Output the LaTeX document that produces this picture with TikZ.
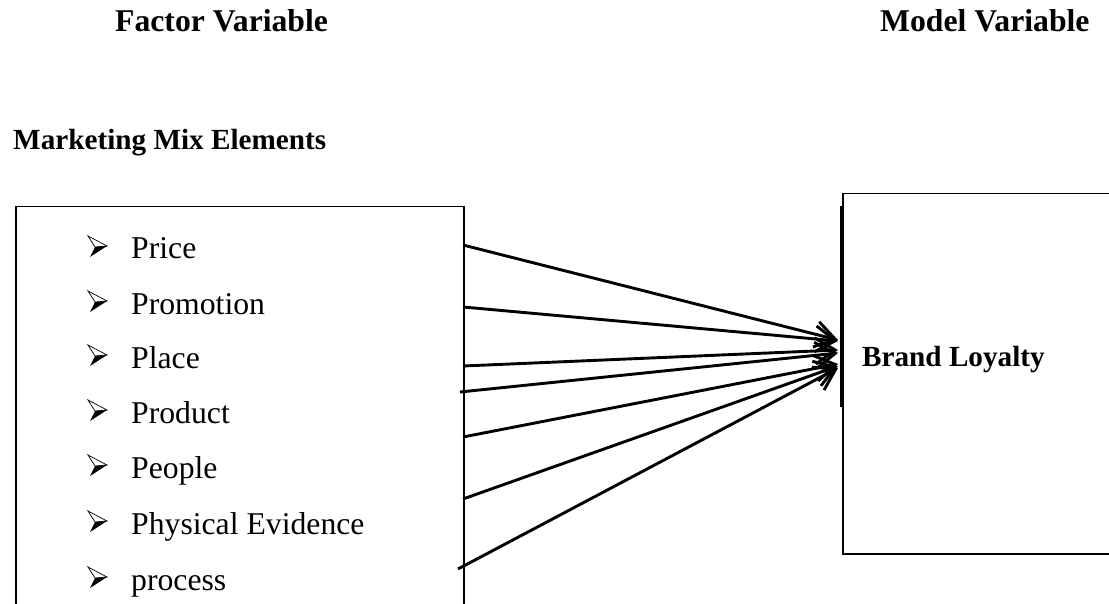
\documentclass[tikz,border=0pt]{standalone}
\usepackage{fontspec}
\setmainfont{Liberation Serif}
\usepackage{tikz}
\usetikzlibrary{arrows.meta,positioning}

\begin{document}
\begin{tikzpicture}[x=1pt, y=-1pt,
    title/.style={anchor=base west, inner sep=0pt, font=\bfseries\fontsize{31.7}{38}\selectfont},
    head/.style={anchor=base west, inner sep=0pt, font=\bfseries\fontsize{29.2}{35}\selectfont},
    item/.style={anchor=base west, inner sep=0pt, font=\fontsize{31.7}{38}\selectfont},
    frame/.style={rectangle, draw, line width=1.5pt, anchor=north west, inner sep=0pt},
    link/.style={-{Straight Barb[length=20pt,width=26pt]}, line width=2.9pt},
    chevron/.pic={
        \draw[line width=0.7pt, line join=miter] (-19,-10) -- (0,0) -- (-12,1) -- cycle;
        \fill (-12,1) -- (0,0) -- (-17,11) -- cycle;
    }]
    \useasboundingbox (0,0) rectangle (1109,604);
    \clip (0,0) rectangle (1109,604);

    \node[title] (fac) at (115,32) {Factor Variable};
    \node[title] (mod) at (880,32) {Model Variable};
    \node[head] (mme) at (13,150) {Marketing Mix Elements};

    \node[frame, minimum width=448pt, minimum height=430pt] (mix) at (15,206) {};
    \node[frame, minimum width=300pt, minimum height=360pt] (loyal) at (842,193) {};
    \node[head] (bl) at (862,366) {Brand Loyalty};
    \draw[line width=3pt] (841,206) -- (841,407);

    % list of elements
    \foreach \n/\y/\t in {1/259/Price, 2/314/Promotion, 3/368/Place, 4/423/Product,
                          5/478/People, 6/534/Physical Evidence, 7/590/process} {
        \node[item] (it\n) at (131,\y) {\t};
        \pic at ([shift={(-24,-13)}]it\n.base west) {chevron};
    }

    % arrows into brand loyalty
    \foreach \n/\xs/\ys/\ye in {1/463/245/340, 2/463/307/341, 3/463/366/350, 4/460/392/353,
                                5/463/437/364, 6/463/499/366, 7/458/569/368} {
        \coordinate (s\n) at (\xs,\ys);
        \coordinate (e\n) at (838,\ye);
        \draw[link] (s\n) -- (e\n);
    }
\end{tikzpicture}
\end{document}
